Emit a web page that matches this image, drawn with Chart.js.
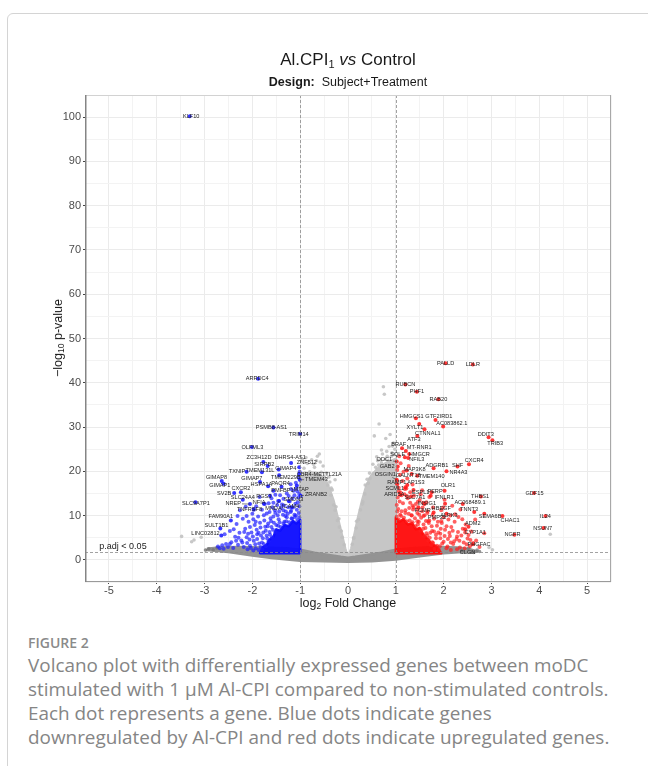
<!DOCTYPE html>
<html>
<head>
<meta charset="utf-8">
<script src="https://cdn.jsdelivr.net/npm/chart.js@4.4.1/dist/chart.umd.min.js"></script>
<style>
    body { margin: 0; width: 648px; height: 766px; overflow: hidden; background: #fff; position: relative; font-family: "Liberation Sans", Arial, sans-serif; }
    .card { position: absolute; left: 7px; top: 13px; width: 700px; height: 800px; border: 1px solid #d4d4d4; border-radius: 6px; box-sizing: border-box; }
    #volcano { position: absolute; left: 0; top: 0; }
    .title { position: absolute; left: 148px; width: 400px; text-align: center; color: #1a1a1a; white-space: nowrap; }
    .main { top: 50px; font-size: 17px; line-height: 20px; }
    .main sub { font-size: 11px; vertical-align: -3px; line-height: 0; }
    .sub { top: 74px; font-size: 12.5px; line-height: 16px; }
    .axis-title { position: absolute; white-space: nowrap; font-size: 12.5px; color: #1a1a1a; transform: translate(-50%, -50%); }
    .axis-title sub { font-size: 8.5px; vertical-align: -2px; line-height: 0; }
    .ytitle { left: 58px; top: 338px; transform: translate(-50%, -50%) rotate(-90deg); }
    .xtitle { left: 348px; top: 603px; }
    .fig-label { position: absolute; left: 28px; top: 633px; font-family: "Open Sans", sans-serif; font-weight: 600; font-size: 14px; color: #8a8a8a; }
    .caption { position: absolute; left: 28px; top: 653px; font-family: "Open Sans", sans-serif; font-size: 18.9px; line-height: 24px; color: #858585; white-space: nowrap; }
</style>
</head>
<body>
<div class="card"></div>
<canvas id="volcano" width="648" height="620"></canvas>
<div class="title main">Al.CPI<sub>1</sub> <i>vs</i> Control</div>
<div class="title sub"><b>Design:</b>&nbsp; Subject+Treatment</div>
<div class="axis-title ytitle">−log<sub>10</sub> p-value</div>
<div class="axis-title xtitle">log<sub>2</sub> Fold Change</div>
<div class="fig-label">FIGURE 2</div>
<div class="caption">Volcano plot with differentially expressed genes between moDC<br>stimulated with 1 μM Al-CPI compared to non-stimulated controls.<br>Each dot represents a gene. Blue dots indicate genes<br>downregulated by Al-CPI and red dots indicate upregulated genes.</div>

<script>
// thresholds
const foldCutoffs = [-1, 1];
const pThreshold = 1.74; // -log10 p matching p.adj < 0.05

// dense clouds, outlines [log2FC, -log10 p]
const nsCloudOutline = [
    [-1.0, 0.5], [-1.0, 18.5], [-0.9, 19.3], [-0.78, 19.8], [-0.66, 19.5], [-0.55, 18.8], [-0.45, 17.6],
    [-0.38, 15.8], [-0.3, 13.3], [-0.22, 9.8], [-0.14, 6.2], [-0.06, 2.6], [0.0, 0.6], [0.07, 2.6],
    [0.14, 6.0], [0.21, 9.6], [0.29, 13.2], [0.38, 16.6], [0.48, 18.9], [0.6, 20.4], [0.75, 21.6],
    [0.88, 22.3], [1.0, 22.8], [1.0, 0.5]
];
const nsBandOutline = [
    [-2.95, 2.5], [-2.7, 2.8], [-2.3, 2.9], [-1.8, 2.8], [-1.3, 2.6], [-1.0, 2.3], [-0.7, 1.6], [-0.4, 1.1],
    [-0.15, 0.7], [0.0, 0.5], [0.15, 0.7], [0.4, 1.1], [0.7, 1.6], [1.0, 2.3], [1.4, 2.7], [1.9, 2.9],
    [2.3, 2.8], [2.55, 2.4], [2.7, 1.9], [2.6, 1.6], [2.4, 1.8], [2.0, 1.5], [1.5, 0.8], [1.0, 0.1],
    [0.5, -0.3], [0.0, -0.4], [-0.5, -0.3], [-1.0, -0.2], [-1.6, 0.4], [-2.0, 1.0], [-2.5, 1.8], [-2.95, 2.2]
];
const downCoreOutline = [
    [-1.0, 1.5], [-1.0, 9.0], [-1.08, 8.2], [-1.15, 8.8], [-1.24, 7.6], [-1.33, 7.9], [-1.42, 6.6], [-1.5, 6.9],
    [-1.56, 5.2], [-1.64, 4.6], [-1.7, 3.4], [-1.78, 2.9], [-1.84, 1.5]
];
const upCoreOutline = [
    [1.0, 1.5], [1.0, 9.5], [1.08, 8.6], [1.16, 9.2], [1.25, 8.0], [1.34, 8.3], [1.42, 6.9], [1.5, 7.2],
    [1.58, 5.6], [1.66, 4.8], [1.75, 3.6], [1.85, 3.0], [1.95, 1.5]
];

// scattered genes
const nsLightPoints = [
    [0.74, 39.1], [0.76, 37.4], [0.65, 30.7], [0.55, 28.0], [0.79, 27.4], [0.86, 25.6], [0.92, 24.2], [0.70, 24.8],
    [0.60, 23.3], [0.95, 26.4], [0.82, 23.4], [0.52, 21.6], [0.45, 19.6], [0.98, 25.0], [0.88, 28.3], [0.67, 22.6],
    [0.72, 23.9], [0.40, 18.2], [0.36, 16.9], [-0.64, 23.4], [-0.76, 22.6], [-0.60, 23.9], [-0.27, 18.1],
    [-0.38, 17.6], [-0.52, 21.2], [-0.85, 21.8], [-0.95, 22.5], [-0.70, 20.9], [-0.45, 19.6], [-0.33, 15.8],
    [-0.58, 22.1], [-0.90, 19.6], [-0.80, 19.9], [-0.62, 19.1], [-0.48, 18.4], [0.30, 12.6], [-0.25, 12.0],
    [0.12, 5.0], [-0.14, 6.5], [0.18, 8.7], [-0.19, 9.3], [-3.48, 5.3], [-3.27, 4.1], [-3.22, 4.5], [-3.07, 5.1],
    [4.23, 5.8], [3.02, 2.3], [2.95, 2.8],
    [-0.42, 16.9], [-0.36, 14.6], [-0.3, 12.4], [-0.27, 11.2], [-0.22, 8.9], [-0.18, 7.4], [-0.12, 5.1], [-0.08, 3.4],
    [-0.5, 18.9], [-0.56, 19.8], [-0.68, 19.6], [-0.74, 18.9], [-0.83, 19.3], [-0.96, 18.7], [-0.92, 20.7],
    [-0.72, 21.6], [-0.66, 22.4], [-0.88, 23.1], [-0.4, 18.7], [-0.35, 16.2],
    [0.09, 3.5], [0.12, 4.9], [0.17, 7.2], [0.22, 9.1], [0.26, 11.3], [0.31, 13.1], [0.35, 14.9], [0.42, 17.3],
    [0.46, 18.4], [0.53, 19.5], [0.58, 20.9], [0.64, 21.4], [0.7, 21.9], [0.78, 22.7], [0.84, 22.4], [0.91, 23.4],
    [0.97, 23.8], [0.62, 22.4], [0.81, 24.5], [0.93, 25.7]
];
const nsDarkPoints = [
    [-2.91, 2.5], [-2.82, 2.3], [-2.74, 2.7], [-2.98, 2.2], [2.38, 2.0], [2.62, 1.7], [2.70, 2.2], [2.52, 2.6], [2.75, 1.9]
];
const downPoints = [
    [-1.03, 10.6], [-1.07, 11.3], [-1.02, 12.1], [-1.12, 10.2], [-1.15, 11.8], [-1.05, 13.0], [-1.2, 10.8], [-1.1, 12.7],
    [-1.25, 11.9], [-1.04, 14.1], [-1.18, 9.4], [-1.28, 9.6], [-1.22, 13.2], [-1.3, 10.9], [-1.02, 14.9], [-1.14, 15.6],
    [-1.09, 17.4], [-1.03, 18.6], [-1.01, 19.9], [-1.2, 17.1], [-1.28, 15.0], [-1.08, 16.2], [-1.16, 13.9],
    [-1.33, 8.6], [-1.36, 10.2], [-1.4, 11.7], [-1.45, 9.2], [-1.48, 12.4], [-1.52, 10.6], [-1.55, 8.4], [-1.58, 11.9],
    [-1.62, 9.4], [-1.66, 12.8], [-1.68, 7.6], [-1.35, 13.8], [-1.42, 14.6], [-1.6, 13.9], [-1.5, 7.9], [-1.7, 10.5],
    [-1.38, 12.5], [-1.72, 6.6], [-1.75, 8.9], [-1.78, 4.9], [-1.8, 11.3], [-1.83, 7.3], [-1.86, 3.7], [-1.88, 9.8],
    [-1.9, 5.8], [-1.93, 2.6], [-1.95, 7.9], [-1.97, 4.3], [-2.0, 10.4], [-2.02, 6.2], [-2.05, 3.2], [-2.08, 8.6],
    [-1.74, 12.6], [-1.92, 12.1], [-1.85, 14.2], [-1.64, 6.3], [-1.7, 5.5], [-1.8, 3.9], [-1.6, 7.4], [-1.98, 2.1],
    [-2.12, 5.1], [-2.15, 7.0], [-2.18, 2.9], [-2.2, 9.3], [-2.23, 4.4], [-2.27, 6.1], [-2.3, 3.4], [-2.33, 8.1],
    [-2.36, 5.2], [-2.4, 2.7], [-2.44, 4.0], [-2.47, 6.5], [-2.26, 11.2], [-2.14, 12.0], [-2.1, 2.4],
    [-2.55, 3.6], [-2.6, 2.5], [-2.58, 5.8], [-2.72, 3.0],
    [-1.02, 9.6], [-1.06, 9.0], [-1.11, 9.7], [-1.17, 9.3], [-1.23, 8.5], [-1.29, 8.7], [-1.35, 8.2], [-1.41, 7.4],
    [-1.46, 7.7], [-1.52, 6.3], [-1.57, 6.8], [-1.59, 5.1], [-1.63, 5.7], [-1.66, 4.2], [-1.69, 4.8], [-1.72, 3.1],
    [-1.76, 3.6], [-1.79, 2.4], [-1.83, 2.9], [-1.87, 2.2], [-1.9, 4.7], [-1.94, 3.5], [-1.99, 5.3], [-2.03, 2.7],
    [-2.06, 4.6], [-2.09, 5.9], [-2.11, 3.8], [-1.82, 5.5], [-1.77, 6.2], [-1.73, 7.5], [-1.67, 8.2], [-1.61, 8.7],
    [-1.56, 9.8], [-1.47, 10.1], [-1.43, 8.5], [-1.31, 9.9], [-1.26, 10.4], [-1.19, 11.1], [-1.09, 10.0], [-1.35, 11.2],
    [-1.44, 10.9], [-1.53, 11.2], [-1.64, 10.8], [-1.76, 10.1], [-1.84, 8.4], [-1.91, 6.8], [-1.98, 9.2], [-2.17, 6.3],
    [-2.21, 3.9], [-2.29, 5.0], [-2.34, 4.3], [-2.39, 6.9], [-2.05, 7.4], [-2.12, 9.9], [-1.97, 11.5], [-2.31, 9.9],
    [-2.51, 2.9], [-2.47, 3.6], [-2.63, 3.3], [-2.68, 2.6], [-1.87, 6.1], [-1.93, 8.6], [-1.12, 14.6], [-1.24, 14.4],
    [-1.34, 12.3], [-1.46, 13.3], [-1.56, 12.9], [-1.52, 14.7], [-1.19, 16.0], [-1.06, 15.5]
];
const upPoints = [
    [1.03, 10.9], [1.05, 11.5], [1.02, 12.4], [1.08, 13.2], [1.12, 11.0], [1.15, 12.8], [1.04, 14.1], [1.2, 10.6],
    [1.1, 15.2], [1.25, 13.9], [1.06, 16.3], [1.18, 14.8], [1.28, 11.7], [1.22, 16.1], [1.3, 12.9], [1.02, 17.8],
    [1.14, 17.8], [1.09, 19.2], [1.03, 20.3], [1.16, 19.9], [1.24, 18.4], [1.27, 21.2], [1.1, 21.8], [1.35, 17.0],
    [1.3, 15.3], [1.07, 23.4], [1.33, 10.1], [1.36, 11.4], [1.4, 9.4], [1.42, 12.6], [1.45, 10.6], [1.5, 13.5],
    [1.53, 9.5], [1.56, 11.8], [1.6, 10.1], [1.64, 13.0], [1.68, 8.7], [1.38, 14.5], [1.55, 15.7], [1.48, 8.6],
    [1.66, 11.0], [1.7, 14.2], [1.62, 7.2], [1.66, 5.5], [1.7, 8.9], [1.76, 4.0], [1.76, 6.5], [1.8, 9.3],
    [1.84, 4.9], [1.86, 7.7], [1.92, 3.1], [1.93, 5.9], [1.96, 8.3], [2.0, 4.1], [2.03, 6.8], [2.08, 3.0],
    [2.1, 9.1], [1.78, 11.8], [1.95, 11.2], [2.02, 13.6], [1.58, 8.0], [1.72, 6.1], [2.15, 2.2],
    [2.13, 5.4], [2.16, 7.4], [2.2, 3.6], [2.23, 8.6], [2.27, 4.7], [2.3, 6.3], [2.34, 2.8], [2.37, 5.5],
    [2.42, 3.9], [2.46, 8.0], [2.5, 4.8], [2.55, 3.1], [2.24, 10.3], [2.35, 11.4], [2.58, 6.4], [2.18, 12.2],
    [2.68, 4.4], [2.75, 2.9], [2.85, 6.0], [2.66, 9.1],
    [1.02, 9.8], [1.06, 9.1], [1.11, 9.9], [1.17, 9.5], [1.23, 8.7], [1.29, 8.9], [1.35, 8.5], [1.41, 7.6],
    [1.46, 8.0], [1.52, 6.6], [1.57, 7.0], [1.6, 5.4], [1.64, 6.0], [1.68, 4.4], [1.71, 5.0], [1.74, 3.3],
    [1.78, 3.8], [1.81, 2.5], [1.86, 3.2], [1.9, 2.3], [1.93, 4.9], [1.97, 3.7], [2.02, 5.4], [2.06, 2.6],
    [2.09, 4.7], [2.12, 6.1], [2.15, 3.9], [1.84, 5.7], [1.8, 6.4], [1.75, 7.6], [1.69, 8.3], [1.63, 8.8],
    [1.58, 9.9], [1.49, 10.2], [1.45, 8.7], [1.33, 10.0], [1.27, 10.4], [1.2, 11.2], [1.09, 10.2], [1.37, 11.9],
    [1.46, 11.4], [1.55, 11.0], [1.66, 10.6], [1.77, 10.2], [1.88, 8.6], [1.94, 7.0], [2.0, 9.6], [2.19, 6.6],
    [2.22, 4.2], [2.28, 5.3], [2.33, 4.3], [2.4, 7.0], [2.06, 7.6], [2.14, 10.0], [1.99, 11.8], [2.31, 9.7],
    [2.44, 2.6], [2.48, 3.5], [2.52, 5.6], [2.62, 3.8], [1.89, 6.2], [1.95, 8.8], [1.12, 14.6], [1.23, 14.4],
    [1.35, 12.3], [1.46, 13.1], [1.57, 12.9], [1.52, 14.8], [1.19, 16.0], [1.06, 15.5], [2.39, 9.2], [2.45, 6.2],
    [2.28, 2.4], [2.56, 4.5]
];

// labelled genes: [name, log2FC, -log10 p, label x, label y]
const downGenes = [
    ["KLF10", -3.31, 100.2, -3.28, 100.2], ["ARRDC4", -1.88, 40.9, -1.9, 40.9],
    ["PSMB8-AS1", -1.56, 29.9, -1.6, 29.9], ["TRIM14", -1.0, 28.5, -1.03, 28.4],
    ["OLFML3", -2.01, 25.5, -2.0, 25.5], ["ZC3H12D", -1.77, 22.1, -1.86, 23.1],
    ["DHRS4-AS1", -1.19, 21.9, -1.21, 23.1], ["SIRPB2", -1.68, 21.2, -1.75, 21.5],
    ["ZNF512", -1.02, 20.9, -0.86, 21.9], ["GIMAP4", -1.45, 20.4, -1.3, 20.6],
    ["TXNIP", -2.12, 19.9, -2.32, 20.0], ["TMEM131L", -1.8, 19.8, -1.84, 20.1],
    ["CBR4-METTL21A", -1.02, 19.4, -0.6, 19.4], ["TMEM43", -1.01, 18.1, -0.66, 18.1],
    ["GIMAP8", -2.64, 17.8, -2.75, 18.6], ["GIMAP1", -2.6, 17.2, -2.68, 16.7],
    ["GIMAP7", -1.84, 17.6, -2.01, 18.3], ["TMEM229B", -1.44, 19.1, -1.3, 18.7],
    ["HSPA1A", -1.67, 16.6, -1.81, 17.0], ["PAQR4", -1.39, 16.5, -1.41, 17.3],
    ["CXCR2", -2.24, 15.3, -2.24, 16.1], ["SV2B", -2.38, 15.1, -2.59, 14.9],
    ["PMFBP1", -1.56, 15.6, -1.37, 15.6], ["MTAP", -1.07, 16.8, -0.98, 16.0],
    ["ZRANB2", -0.99, 14.5, -0.67, 14.8], ["SLC24A4", -2.2, 13.6, -2.2, 14.2],
    ["RGS3", -1.63, 14.5, -1.76, 14.3], ["SMDN3", -1.24, 13.3, -1.14, 13.6],
    ["NREP", -2.05, 12.6, -2.4, 12.7], ["NFIA", -1.76, 12.7, -1.86, 13.0],
    ["TNFRSF8", -1.97, 11.3, -2.06, 11.3], ["MNDA", -1.44, 13.3, -1.56, 11.5],
    ["ICAM4", -1.18, 11.9, -1.2, 12.1], ["SLC9A7P1", -3.19, 13.0, -3.18, 12.8],
    ["FAM90A1", -2.45, 8.9, -2.66, 9.8], ["SULT1B1", -2.67, 7.1, -2.75, 7.8],
    ["LINC02812", -2.65, 5.5, -2.98, 6.0]
];
const upGenes = [
    ["PALLD", 2.04, 44.4, 2.04, 44.4], ["LDLR", 2.61, 44.1, 2.61, 44.1], ["RUBCN", 1.2, 39.6, 1.2, 39.6],
    ["PHF1", 1.44, 38.0, 1.44, 38.0], ["RAB20", 1.89, 36.3, 1.89, 36.3], ["HMGCS1", 1.42, 32.0, 1.33, 32.4],
    ["GTF2IRD1", 1.83, 31.6, 1.9, 32.4], ["XYLT1", 1.49, 30.7, 1.4, 30.0], ["AC083862.1", 1.99, 30.1, 2.17, 30.8],
    ["CTNNAL1", 1.6, 29.5, 1.67, 28.6], ["ATF3", 1.45, 28.0, 1.38, 27.3], ["DDIT3", 2.94, 27.7, 2.88, 28.3],
    ["TRIB3", 3.02, 27.0, 3.08, 26.2], ["BRAF", 1.13, 25.2, 1.06, 26.0], ["MT-RNR1", 1.21, 24.6, 1.49, 25.4],
    ["SQLE", 1.19, 23.2, 1.04, 23.9], ["HMGCR", 1.28, 23.9, 1.49, 23.9], ["NFIL3", 1.26, 23.0, 1.44, 22.6],
    ["ODC1", 1.02, 22.2, 0.76, 22.6], ["GAB2", 1.04, 21.1, 0.82, 21.0], ["ADGRB1", 1.79, 20.7, 1.86, 21.4],
    ["SHF", 2.29, 21.1, 2.29, 21.3], ["CXCR4", 2.53, 21.6, 2.64, 22.4], ["MAP3K8", 1.23, 20.2, 1.39, 20.5],
    ["NR4A3", 2.06, 20.0, 2.31, 19.8], ["OSGIN1", 1.02, 18.1, 0.78, 19.4], ["GALNT18", 1.33, 19.4, 1.26, 19.0],
    ["TMEM140", 1.45, 19.0, 1.75, 18.8], ["RAMP1", 1.03, 17.1, 1.02, 17.4], ["AP1S3", 1.24, 16.9, 1.42, 17.4],
    ["SCML1", 1.2, 16.4, 0.98, 16.2], ["OLR1", 2.02, 15.6, 2.09, 16.9], ["ESPL1", 1.37, 15.8, 1.52, 15.3],
    ["PERP", 1.75, 15.3, 1.82, 15.4], ["ARID5A", 1.09, 14.7, 0.97, 14.8], ["SLC7A1", 1.32, 14.3, 1.4, 14.2],
    ["IFNLR1", 1.73, 14.5, 2.01, 14.1], ["THBS1", 2.78, 14.3, 2.76, 14.3], ["GDF15", 3.89, 15.1, 3.9, 15.1],
    ["AC068489.1", 2.4, 12.6, 2.55, 13.0], ["INSIG1", 1.6, 12.6, 1.65, 12.7], ["HBEGF", 2.03, 12.7, 1.95, 11.6],
    ["TNNT3", 2.64, 10.8, 2.53, 11.3], ["FCMR", 1.47, 11.9, 1.56, 11.1], ["ALPK3", 2.06, 10.4, 2.11, 10.1],
    ["PMP22", 1.79, 10.7, 1.86, 9.6], ["SEMA6B", 2.85, 10.4, 2.97, 9.7], ["CHAC1", 3.23, 9.9, 3.39, 8.9],
    ["IL24", 4.13, 9.9, 4.13, 9.9], ["ADM2", 2.52, 7.5, 2.61, 8.2], ["NSUN7", 4.09, 7.2, 4.07, 7.2],
    ["CYP1A1", 2.45, 6.9, 2.66, 6.3], ["NGFR", 3.48, 5.7, 3.44, 5.7], ["PHGFAC", 2.61, 3.5, 2.74, 3.5]
];
const nsGenes = [["CLGN", 2.38, 2.0, 2.5, 1.6]];
const segmentGenes = ["ODC1", "OSGIN1", "NREP", "MNDA", "ZRANB2", "TMEM43", "CBR4-METTL21A", "HSPA1A"];

// axes
const xRange = [-5.5, 5.5];
const yRange = [-5, 105];

const toXY = (arr) => arr.map((p) => ({ x: p[0], y: p[1] }));
const geneXY = (arr) => arr.map((g) => ({ x: g[1], y: g[2] }));

function cloud(label, outline, color, order) {
    return {
        type: "line",
        label,
        data: toXY(outline.concat([outline[0]])),
        borderColor: color,
        backgroundColor: color,
        borderWidth: 2.5,
        borderJoinStyle: "round",
        pointRadius: 0,
        tension: 0,
        fill: "shape",
        order,
    };
}

function dots(label, data, color, radius, order) {
    return {
        type: "scatter",
        label,
        data,
        backgroundColor: color,
        borderWidth: 0,
        pointRadius: radius,
        order,
    };
}

const overlayPlugin = {
    id: "volcanoOverlay",
    afterDatasetsDraw(chart) {
        const { ctx, chartArea: a, scales } = chart;
        const sx = scales.x, sy = scales.y;
        ctx.save();

        // cut-off lines
        ctx.strokeStyle = "#8a8a8a";
        ctx.lineWidth = 0.8;
        ctx.setLineDash([3, 2]);
        foldCutoffs.forEach((v) => {
            const px = Math.round(sx.getPixelForValue(v)) + 0.5;
            ctx.beginPath();
            ctx.moveTo(px, a.top);
            ctx.lineTo(px, a.bottom);
            ctx.stroke();
        });
        const py = Math.round(sy.getPixelForValue(pThreshold)) + 0.5;
        ctx.beginPath();
        ctx.moveTo(a.left, py);
        ctx.lineTo(a.right, py);
        ctx.stroke();
        ctx.setLineDash([]);

        ctx.fillStyle = "#222";
        ctx.font = '9px "Liberation Sans", Arial, sans-serif';
        ctx.textAlign = "left";
        ctx.textBaseline = "bottom";
        ctx.fillText("p.adj < 0.05", sx.getPixelForValue(-5.2), py - 1);

        // gene labels
        ctx.font = '5.6px "Liberation Sans", Arial, sans-serif';
        ctx.textAlign = "center";
        ctx.textBaseline = "middle";
        ctx.strokeStyle = "#333";
        ctx.lineWidth = 0.6;
        downGenes.concat(upGenes, nsGenes).forEach((g) => {
            const px = sx.getPixelForValue(g[1]);
            const pyy = sy.getPixelForValue(g[2]);
            const lx = sx.getPixelForValue(g[3]);
            const ly = sy.getPixelForValue(g[4]);
            if (segmentGenes.includes(g[0])) {
                const hw = ctx.measureText(g[0]).width / 2 + 1;
                const hh = 3.5;
                const dx = px - lx, dy = pyy - ly;
                const s = Math.min(dx ? hw / Math.abs(dx) : Infinity, dy ? hh / Math.abs(dy) : Infinity);
                if (s < 1) {
                    ctx.beginPath();
                    ctx.moveTo(lx + dx * s, ly + dy * s);
                    ctx.lineTo(px, pyy);
                    ctx.stroke();
                }
            }
            ctx.fillText(g[0], lx, ly);
        });

        // panel frame
        ctx.lineWidth = 1;
        ctx.strokeStyle = "#d2d2d2";
        ctx.beginPath();
        ctx.moveTo(a.left, a.top + 0.5);
        ctx.lineTo(a.right, a.top + 0.5);
        ctx.stroke();
        ctx.strokeStyle = "#a8a8a8";
        ctx.beginPath();
        ctx.moveTo(a.right - 0.5, a.top);
        ctx.lineTo(a.right - 0.5, a.bottom);
        ctx.stroke();
        ctx.strokeStyle = "#9a9a9a";
        ctx.beginPath();
        ctx.moveTo(a.left, a.bottom - 0.5);
        ctx.lineTo(a.right, a.bottom - 0.5);
        ctx.stroke();
        ctx.strokeStyle = "#858585";
        ctx.lineWidth = 1.5;
        ctx.beginPath();
        ctx.moveTo(a.left + 0.75, a.top);
        ctx.lineTo(a.left + 0.75, a.bottom);
        ctx.stroke();
        ctx.restore();
    },
};

const tickFont = { family: '"Liberation Sans", Arial, sans-serif', size: 11 };

new Chart(document.getElementById("volcano"), {
    type: "scatter",
    data: {
        datasets: [
            dots("labelled down", geneXY(downGenes), "rgba(20,20,255,0.85)", 2, 1),
            dots("labelled up", geneXY(upGenes), "rgba(255,20,20,0.85)", 2, 1),
            dots("labelled ns", geneXY(nsGenes), "rgba(110,110,110,0.8)", 1.8, 1),
            dots("up", toXY(upPoints), "rgba(255,30,30,0.7)", 2, 2),
            cloud("up core", upCoreOutline, "rgba(255,12,12,0.96)", 3),
            dots("down", toXY(downPoints), "rgba(30,30,255,0.7)", 2, 4),
            cloud("down core", downCoreOutline, "rgba(14,14,255,0.96)", 5),
            dots("ns dark", toXY(nsDarkPoints), "rgba(115,115,115,0.75)", 1.8, 6),
            cloud("ns band", nsBandOutline, "#939393", 7),
            dots("ns", toXY(nsLightPoints), "rgba(190,190,190,0.85)", 1.8, 8),
            cloud("ns cloud", nsCloudOutline, "#c6c6c6", 9),
        ],
    },
    options: {
        responsive: false,
        animation: false,
        devicePixelRatio: 1,
        layout: { padding: { left: 0, top: 95, right: 37, bottom: 0 } },
        plugins: { legend: { display: false }, tooltip: { enabled: false } },
        scales: {
            x: {
                type: "linear",
                min: xRange[0],
                max: xRange[1],
                border: { display: false },
                grid: {
                    color: (c) => (c.tick && Number.isInteger(c.tick.value) ? "#ebebeb" : "#f3f3f3"),
                    tickColor: (c) => (c.tick && Number.isInteger(c.tick.value) && Math.abs(c.tick.value) <= 5 ? "#444" : "rgba(0,0,0,0)"),
                    tickLength: 2,
                    lineWidth: 1,
                },
                ticks: {
                    stepSize: 0.5,
                    autoSkip: false,
                    maxRotation: 0,
                    padding: 0,
                    color: "#4d4d4d",
                    font: tickFont,
                    callback: (v) => (Number.isInteger(v) && Math.abs(v) <= 5 ? String(v) : ""),
                },
                afterFit: (s) => { s.height = 38; },
            },
            y: {
                type: "linear",
                min: yRange[0],
                max: yRange[1],
                border: { display: false },
                grid: {
                    color: (c) => (c.tick && c.tick.value % 10 === 0 ? "#ebebeb" : "#f3f3f3"),
                    tickColor: (c) => (c.tick && c.tick.value % 10 === 0 && c.tick.value >= 0 && c.tick.value <= 100 ? "#444" : "rgba(0,0,0,0)"),
                    tickLength: 2,
                    lineWidth: 1,
                },
                ticks: {
                    stepSize: 5,
                    autoSkip: false,
                    padding: 2,
                    color: "#4d4d4d",
                    font: tickFont,
                    callback: (v) => (v % 10 === 0 && v >= 0 && v <= 100 ? String(v) : ""),
                },
                afterFit: (s) => { s.width = 85; },
            },
        },
    },
    plugins: [overlayPlugin],
});
</script>
</body>
</html>
